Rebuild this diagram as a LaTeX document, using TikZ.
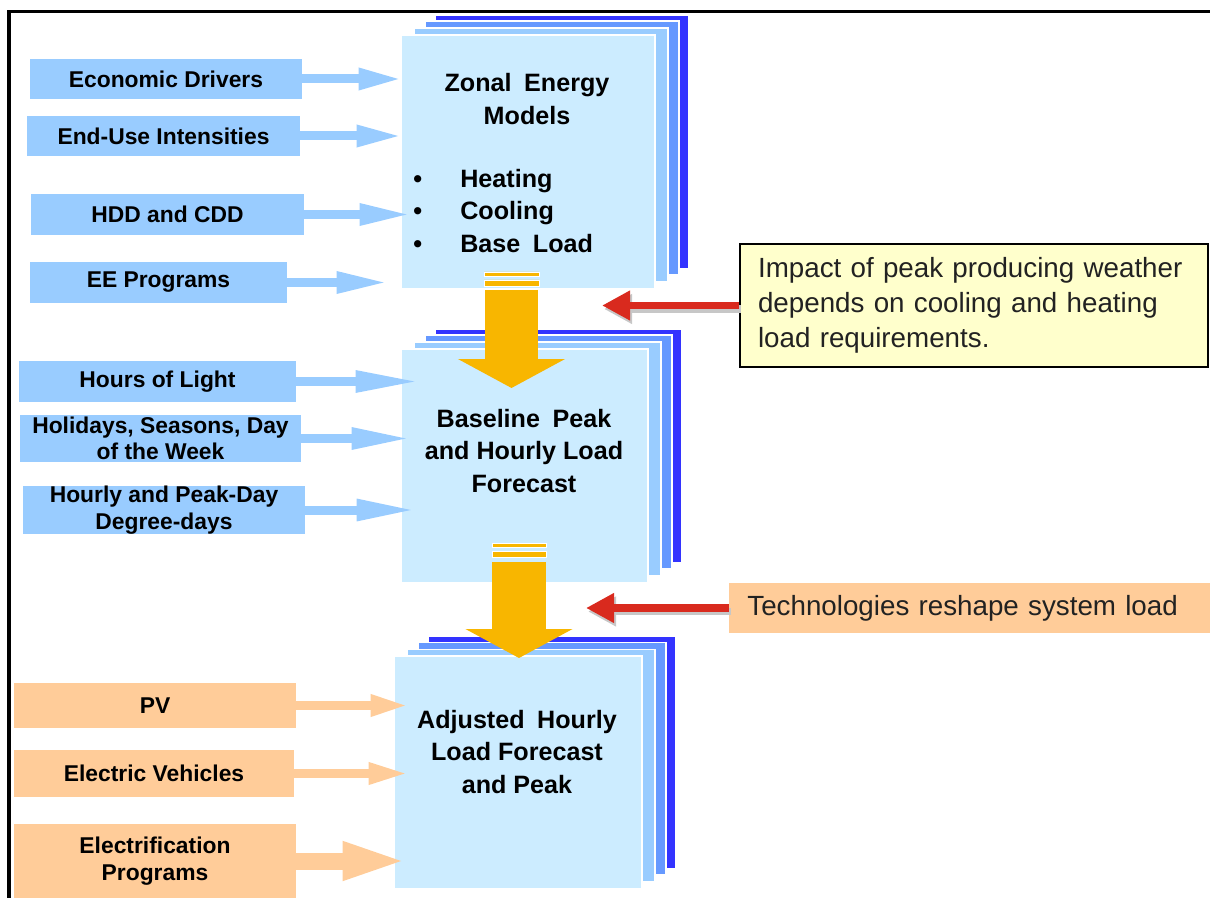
\documentclass[tikz,border=0pt]{standalone}
\usepackage{fontspec}
\setmainfont{Liberation Sans}
\usepackage{xcolor}
\usepackage{tikz}
\usetikzlibrary{arrows.meta,shadows}
\definecolor{boxfill}{HTML}{CCECFF}
\definecolor{layerA}{HTML}{99CCFF}
\definecolor{layerB}{HTML}{6699FF}
\definecolor{layerC}{HTML}{3333FF}
\definecolor{inblue}{HTML}{99CCFF}
\definecolor{inpeach}{HTML}{FFCC99}
\definecolor{flowgold}{HTML}{F8B600}
\definecolor{alertred}{HTML}{D92A1E}
\definecolor{noteyellow}{HTML}{FFFFCC}
\definecolor{notetext}{HTML}{222222}

\begin{document}
\begin{tikzpicture}[x=0.02cm, y=-0.02cm,
  inbox/.style={inner sep=0pt, align=center, font=\fontsize{13}{15}\selectfont\bfseries},
  stack/.style={fill=boxfill, draw=white, line width=0.6pt, inner sep=0pt,
    general shadow={fill=layerC, draw=white, shadow xshift=0.68cm, shadow yshift=0.40cm},
    general shadow={fill=layerB, draw=white, shadow xshift=0.48cm, shadow yshift=0.28cm},
    general shadow={fill=layerA, draw=white, shadow xshift=0.26cm, shadow yshift=0.14cm}},
  boxtext/.style={inner sep=0pt, align=center, font=\fontsize{14.3}{18.4}\selectfont\bfseries},
  feed/.style={line width=0.18cm, -{Triangle[length=#1, width=0.4cm]}},
  flow/.style={draw=flowgold, line width=1.07cm, -{Triangle[length=0.58cm, width=2.12cm]}},
  alert/.style={draw=alertred, line width=0.15cm, -{Triangle[length=0.56cm, width=0.56cm]}},
  alertshade/.style={draw=black!22, line width=0.15cm, -{Triangle[length=0.56cm, width=0.56cm]}},
  note/.style={anchor=west, align=left, inner xsep=0.36cm, text=notetext, font=\fontsize{15.8}{19.8}\selectfont}]
\useasboundingbox (0,0) rectangle (1210,898);
\draw[line width=0.07cm] (9,898) -- (9,11.5) -- (1210,11.5);

\node[stack, minimum width=5.08cm, minimum height=5.08cm] (zonal) at (528,162) {};
\node[stack, minimum width=4.94cm, minimum height=4.68cm] (baseline) at (524.5,466) {};
\node[stack, minimum width=4.96cm, minimum height=4.66cm] (adjusted) at (518,772.5) {};

\node[boxtext] (zonal-title) at (527,99) {Zonal\enspace Energy\\Models};
\node[boxtext, align=left, anchor=west] (zonal-list) at (413,211)
  {\makebox[0.94cm][l]{\textbullet}Heating\\\makebox[0.94cm][l]{\textbullet}Cooling\\\makebox[0.94cm][l]{\textbullet}Base\enspace Load};
\node[boxtext] (baseline-title) at (524,451) {Baseline\enspace Peak\\and Hourly Load\\Forecast};
\node[boxtext] (adjusted-title) at (517,752) {Adjusted\enspace Hourly\\Load Forecast\\and Peak};

\node[inbox, fill=inblue, minimum width=5.44cm, minimum height=0.8cm] (econ) at (166,79) {Economic Drivers};
\node[inbox, fill=inblue, minimum width=5.46cm, minimum height=0.8cm] (enduse) at (163.5,136) {End-Use Intensities};
\node[inbox, fill=inblue, minimum width=5.46cm, minimum height=0.82cm] (hdd) at (167.5,214.5) {HDD and CDD};
\node[inbox, fill=inblue, minimum width=5.14cm, minimum height=0.82cm] (ee) at (158.5,282.5) {EE Programs};
\node[inbox, fill=inblue, minimum width=5.54cm, minimum height=0.82cm] (light) at (157.5,381.5) {Hours of Light};
\node[inbox, fill=inblue, minimum width=5.62cm, minimum height=0.94cm] (holidays) at (160.5,438.5) {Holidays, Seasons, Day\\of the Week};
\node[inbox, fill=inblue, minimum width=5.64cm, minimum height=0.92cm] (hourly) at (164,510) {Hourly and Peak-Day\\Degree-days};
\node[inbox, fill=inpeach, minimum width=5.64cm, minimum height=0.9cm] (pv) at (155,705.5) {PV};
\node[inbox, fill=inpeach, minimum width=5.6cm, minimum height=0.94cm] (ev) at (154,773.5) {Electric Vehicles};
\node[inbox, fill=inpeach, minimum width=5.64cm, minimum height=1.48cm] (elec) at (155,861) {Electrification\\Programs};

\node[note, fill=noteyellow, draw=black, line width=1.2pt, text width=8.64cm, minimum height=2.46cm] (impact) at (739,305.5)
  {Impact of peak producing weather\\depends on cooling and heating\\load requirements.};
\node[note, fill=inpeach, text width=8.9cm, minimum height=1.0cm] (reshape) at (729,608) {Technologies reshape system load};

\draw[feed=0.88cm, inblue] (econ) -- ([xshift=0.04cm]zonal.west |- econ);
\draw[feed=0.92cm, inblue] (enduse) -- ([xshift=0.04cm]zonal.west |- enduse);
\draw[feed=1.04cm, inblue] (hdd) -- ([xshift=0.22cm]zonal.west |- hdd);
\draw[feed=1.04cm, inblue] (ee) -- ([xshift=-0.24cm]zonal.west |- ee);
\draw[feed=1.3cm, inblue] (light) -- ([xshift=0.40cm]baseline.west |- light);
\draw[feed=1.2cm, inblue] (holidays) -- ([xshift=0.22cm]baseline.west |- holidays);
\draw[feed=1.2cm, inblue] (hourly) -- ([xshift=0.32cm]baseline.west |- hourly);
\draw[feed=0.76cm, inpeach] (pv) -- ([xshift=0.30cm]adjusted.west |- pv);
\draw[feed=0.8cm, inpeach] (ev) -- ([xshift=0.30cm]adjusted.west |- ev);
\draw[inpeach, line width=0.34cm, -{Triangle[length=1.34cm, width=0.68cm]}] (elec) -- ([xshift=0.32cm]adjusted.west |- elec);

\coordinate (drop1) at (511.5,290);
\coordinate (land1) at (511.5,388);
\fill[flowgold, draw=white, line width=0.4pt] (484,272) rectangle (539,276) (484,280) rectangle (539,286);
\draw[flow] (drop1) -- (land1);
\coordinate (drop2) at (519,562);
\coordinate (land2) at (519,658);
\fill[flowgold, draw=white, line width=0.4pt] (492,543) rectangle (546,547) (492,551) rectangle (546,557);
\draw[flow] (drop2) -- (land2);

\coordinate (hit1) at (602,305.5);
\draw[alertshade, transform canvas={shift={(0.04cm,-0.07cm)}}] (impact) -- (hit1);
\draw[alert] (impact) -- (hit1);
\coordinate (hit2) at (586,608);
\draw[alertshade, transform canvas={shift={(0.04cm,-0.07cm)}}] (reshape) -- (hit2);
\draw[alert] (reshape) -- (hit2);
\end{tikzpicture}
\end{document}
